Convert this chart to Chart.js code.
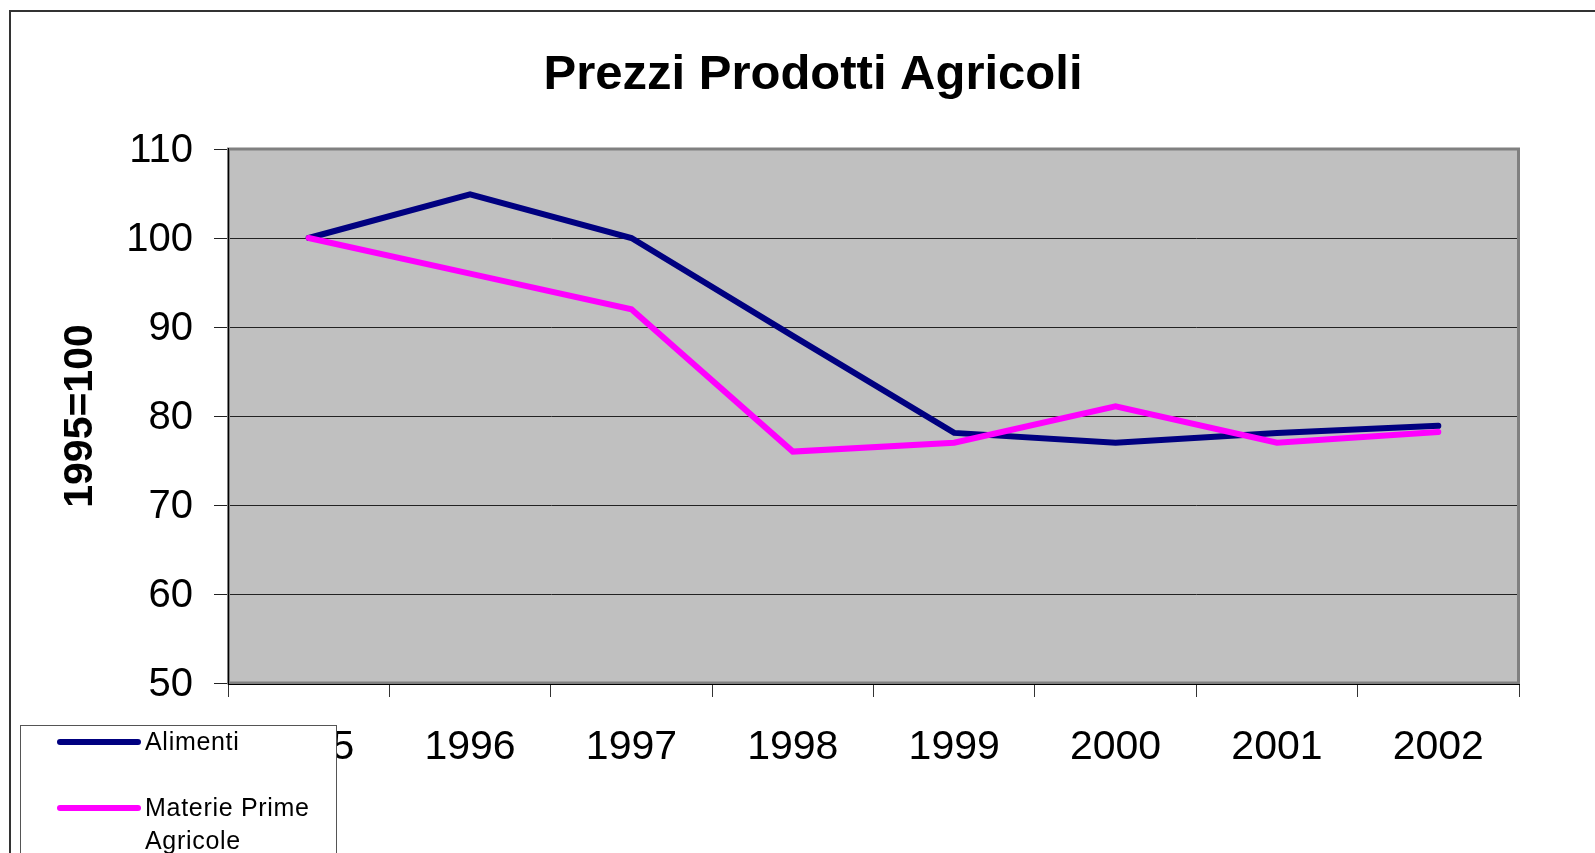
<!DOCTYPE html>
<html>
<head>
<meta charset="utf-8">
<script src="https://cdn.jsdelivr.net/npm/chart.js@4.4.1/dist/chart.umd.min.js"></script>
<style>
  html, body { margin: 0; padding: 0; background: #ffffff; }
  #wrap { width: 1595px; height: 853px; position: relative; }
</style>
</head>
<body>
<div id="wrap"><canvas id="c" width="1595" height="853"></canvas></div>
<script>
// ---- data ----
const chartTitle = 'Prezzi Prodotti Agricoli';
const yAxisTitle = '1995=100';
const years = ['1995', '1996', '1997', '1998', '1999', '2000', '2001', '2002'];
const alimenti = [100, 104.9, 100, 89, 78.1, 77, 78.1, 78.9];
const materiePrime = [100, 96, 92, 76, 77, 81.1, 77, 78.2];
const seriesNames = ['Alimenti', 'Materie Prime Agricole'];
const yMin = 50, yMax = 110, yStep = 10;

const FONT = '"Liberation Sans", Arial, sans-serif';

// background, outer frame, plot area fill
const framePlugin = {
  id: 'frame',
  beforeDraw(chart) {
    const ctx = chart.ctx;
    const a = chart.chartArea;
    ctx.save();
    ctx.fillStyle = '#ffffff';
    ctx.fillRect(0, 0, chart.width, chart.height);
    ctx.strokeStyle = '#333333';
    ctx.lineWidth = 2;
    ctx.beginPath();
    ctx.moveTo(10, chart.height + 2);
    ctx.lineTo(10, 11);
    ctx.lineTo(chart.width + 2, 11);
    ctx.stroke();
    ctx.fillStyle = '#C0C0C0';
    ctx.fillRect(a.left, a.top, a.right - a.left, a.bottom - a.top);
    ctx.restore();
  },
  beforeDatasetsDraw(chart) {
    const ctx = chart.ctx;
    const a = chart.chartArea;
    ctx.save();
    ctx.strokeStyle = '#808080';
    ctx.lineWidth = 3;
    ctx.strokeRect(a.left + 0.5, a.top, a.right - a.left - 1, a.bottom - a.top);
    ctx.strokeStyle = '#000000';
    ctx.lineWidth = 1;
    ctx.beginPath();
    ctx.moveTo(a.left + 0.5, a.top - 1);
    ctx.lineTo(a.left + 0.5, a.bottom + 1);
    ctx.moveTo(a.left, a.bottom + 1.5);
    ctx.lineTo(a.right + 1, a.bottom + 1.5);
    ctx.stroke();
    ctx.restore();
  },
  afterDraw(chart) {
    const ctx = chart.ctx;
    ctx.save();
    // main title
    ctx.fillStyle = '#000000';
    ctx.font = 'bold 49px ' + FONT;
    ctx.textAlign = 'center';
    ctx.textBaseline = 'alphabetic';
    ctx.fillText(chartTitle, 813, 89);

    // legend box
    const bx = 20, by = 725, bw = 316, bh = 140;
    ctx.fillStyle = '#ffffff';
    ctx.fillRect(bx, by, bw, bh);
    ctx.strokeStyle = '#555555';
    ctx.lineWidth = 1;
    ctx.strokeRect(bx + 0.5, by + 0.5, bw, bh);

    ctx.font = '25px ' + FONT;
    ctx.textAlign = 'left';
    ctx.textBaseline = 'middle';
    try { ctx.letterSpacing = '0.7px'; } catch (e) {}
    const rows = [742, 808];
    chart.data.datasets.forEach((ds, i) => {
      const y = rows[i];
      ctx.strokeStyle = ds.borderColor;
      ctx.lineWidth = 6;
      ctx.lineCap = 'round';
      ctx.beginPath();
      ctx.moveTo(60, y);
      ctx.lineTo(138, y);
      ctx.stroke();
      // wrap label text
      const words = ds.label.split(' ');
      const lines = [];
      let cur = '';
      words.forEach(w => {
        const t = cur ? cur + ' ' + w : w;
        if (ctx.measureText(t).width > 180 && cur) { lines.push(cur); cur = w; }
        else cur = t;
      });
      if (cur) lines.push(cur);
      ctx.fillStyle = '#000000';
      lines.forEach((ln, k) => ctx.fillText(ln, 145, y + 1 + k * 33));
    });
    ctx.restore();
  }
};

new Chart(document.getElementById('c'), {
  type: 'line',
  data: {
    labels: years,
    datasets: [
      {
        label: seriesNames[0],
        data: alimenti,
        borderColor: '#000080',
        backgroundColor: '#000080',
        borderWidth: 6,
        pointRadius: 0,
        tension: 0,
        borderCapStyle: 'round',
        order: 1
      },
      {
        label: seriesNames[1],
        data: materiePrime,
        borderColor: '#FF00FF',
        backgroundColor: '#FF00FF',
        borderWidth: 6,
        pointRadius: 0,
        tension: 0,
        borderCapStyle: 'round',
        order: 0
      }
    ]
  },
  options: {
    responsive: false,
    devicePixelRatio: 1,
    animation: false,
    layout: { padding: { left: 0, top: 149, right: 76, bottom: 0 } },
    plugins: {
      legend: { display: false },
      title: { display: false },
      tooltip: { enabled: false }
    },
    scales: {
      x: {
        offset: true,
        grid: {
          offset: true,
          drawOnChartArea: false,
          drawTicks: true,
          tickLength: 14,
          color: '#333333',
          lineWidth: 1
        },
        border: { display: true, color: '#000000', width: 1 },
        ticks: {
          color: '#000000',
          font: { family: FONT, size: 41 },
          padding: 26,
          maxRotation: 0,
          autoSkip: false
        },
        afterFit(scale) { scale.height = 170; }
      },
      y: {
        min: yMin,
        max: yMax,
        grid: {
          color: '#222222',
          lineWidth: 1,
          drawTicks: true,
          tickLength: 14
        },
        border: { display: true, color: '#000000', width: 1 },
        ticks: {
          stepSize: yStep,
          color: '#000000',
          font: { family: FONT, size: 40 },
          padding: 21,
          labelOffset: 2
        },
        title: {
          display: true,
          text: yAxisTitle,
          color: '#000000',
          font: { family: FONT, size: 41, weight: 'bold', lineHeight: 1 },
          padding: { top: 60, bottom: 0 }
        },
        afterFit(scale) { scale.width = 228; }
      }
    }
  },
  plugins: [framePlugin]
});
</script>
</body>
</html>
